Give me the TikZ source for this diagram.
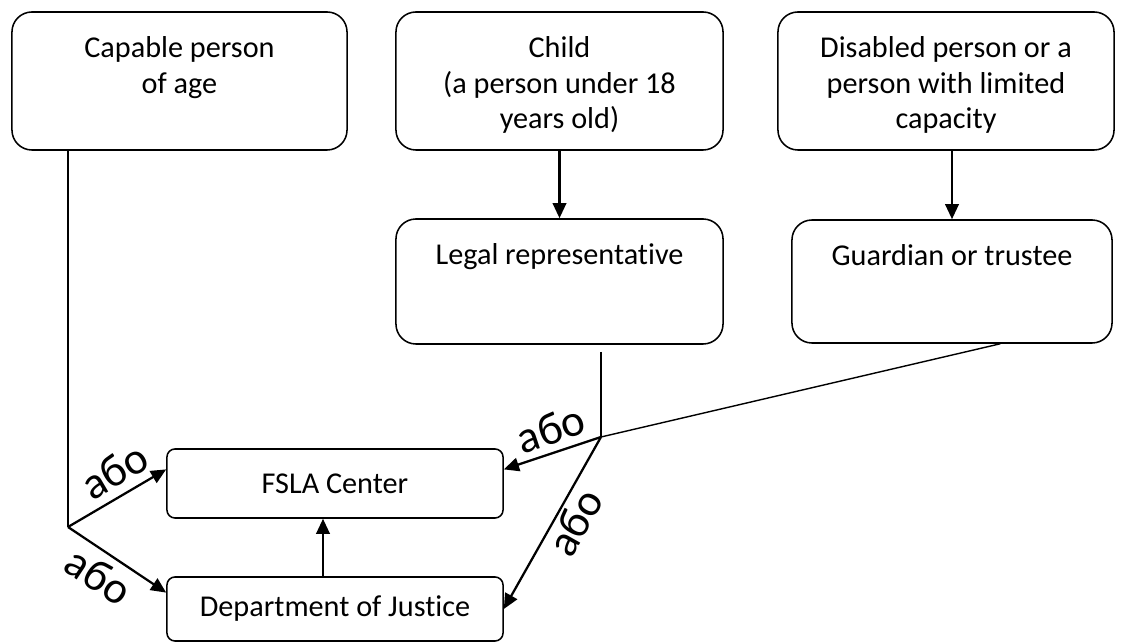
\documentclass[tikz,border=0pt]{standalone}
\usepackage{fontspec}
\setmainfont{Carlito}[Ligatures={NoCommon}]
\usetikzlibrary{arrows.meta,calc}

\begin{document}
\begin{tikzpicture}
        [x=0.025cm, y=-0.025cm,
        box/.style={draw, line width=1.1pt, inner sep=0pt, rounded corners=0.5cm},
        smallbox/.style={draw, line width=1.1pt, inner sep=0pt, rounded corners=0.2cm, font=\fontsize{21.5}{25.5}\selectfont},
        boxtext/.style={anchor=north, align=center, yshift=-0.5cm, font=\fontsize{21.5}{25.5}\selectfont},
        arrow/.style={line width=1.6pt, -{Triangle[length=0.38cm, width=0.34cm]}},
        link/.style={line width=1pt},
        ili/.style={font=\fontsize{32}{32}\selectfont, sloped, inner sep=5pt}]
        \useasboundingbox (0,0) rectangle (1121,642);

        \node[box, minimum width=8.375cm, minimum height=3.45cm, label={[boxtext]north:{Capable person\\of age}}] (capable) at (179.5,81) {};
        \node[box, minimum width=8.175cm, minimum height=3.45cm, label={[boxtext]north:{Child\\(a person under 18\\years old)}}] (child) at (559.5,81) {};
        \node[box, minimum width=8.4cm, minimum height=3.45cm, label={[boxtext]north:{Disabled person or a\\person with limited\\capacity}}] (disabled) at (946,81) {};
        \node[box, minimum width=8.175cm, minimum height=3.125cm, label={[boxtext]north:{Legal representative}}] (legal) at (559.5,281.5) {};
        \node[box, minimum width=8cm, minimum height=3.075cm, label={[boxtext]north:{Guardian or trustee}}] (guardian) at (952,281.5) {};
        \node[smallbox, minimum width=8.4cm, minimum height=1.725cm] (fsla) at (335,483.5) {FSLA Center};
        \node[smallbox, minimum width=8.4cm, minimum height=1.6cm] (dept) at (335,609) {Department of Justice};

        \coordinate (jl) at (68,527);
        \coordinate (jr) at (601,437);

        \draw[link] (jl |- capable.south) -- (jl);
        \draw[arrow] (jl) -- ($(fsla.north west)!0.3!(fsla.south west)$) node[ili, pos=0.6, above, inner sep=6pt] {або};
        \draw[arrow] (jl) -- ($(dept.north west)!0.25!(dept.south west)$) node[ili, pos=0.45, below] {або};

        \draw[arrow] (child.south) -- (legal.north);
        \draw[arrow] (guardian.north |- disabled.south) -- (guardian.north);

        \draw[link] ($(legal.south -| jr)+(0,7)$) -- (jr);
        \draw[link] ($(guardian.south west)!0.65!(guardian.south east)$) -- (jr);
        \draw[arrow] (jr) -- ($(fsla.north east)!0.3!(fsla.south east)$) node[ili, pos=0.44, above] {або};
        \draw[arrow] (jr) -- (dept.east) node[ili, pos=0.44, below, inner sep=2pt] {або};

        \draw[arrow] ($(dept.north)+(-12,0)$) -- ($(fsla.south)+(-12,0)$);

    \end{tikzpicture}
\end{document}
